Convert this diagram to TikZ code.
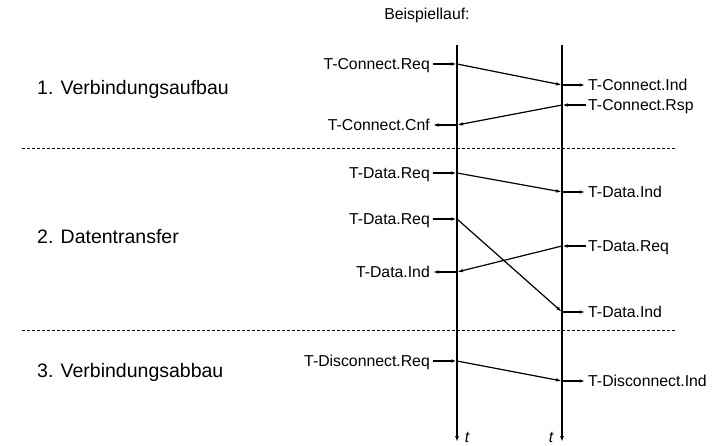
\documentclass[tikz,border=0pt]{standalone}
\usepackage{fontspec}
\setmainfont{Liberation Sans}
\usetikzlibrary{arrows.meta}
\begin{document}
\begin{tikzpicture}[x=1pt,y=-1pt,
  evt/.style={inner sep=0pt,font=\fontsize{15.8}{18}\selectfont},
  evl/.style={evt,anchor=base east,yshift=-5.5pt},
  evr/.style={evt,anchor=base west,yshift=-5.5pt},
  phase/.style={inner sep=0pt,anchor=west,font=\fontsize{19.5}{23}\selectfont},
  tl/.style={line width=1.6pt,-{Latex[length=6pt,width=4pt]}},
  msg/.style={line width=1.2pt,-{Latex[length=6pt,width=3.5pt]}},
  sep/.style={line width=0.6pt,dash pattern=on 3pt off 2pt}]
\useasboundingbox (0,0) rectangle (717,446);

% title
\node[evt] (title) at (427,15) {Beispiellauf:};

% time lines of the two stations
\coordinate (Atop) at (457,45);
\coordinate (Abot) at (457,442);
\coordinate (Btop) at (562,45);
\coordinate (Bbot) at (562,442);
\draw[tl] (Atop) -- (Abot);
\draw[tl] (Btop) -- (Bbot);
\node[evt,font=\fontsize{15.8}{18}\selectfont\itshape] (tA) at (467,437) {t};
\node[evt,font=\fontsize{15.8}{18}\selectfont\itshape] (tB) at (551,437) {t};

% phase separators and titles
\coordinate (s1a) at (22,148);  \coordinate (s1b) at (677,148);
\coordinate (s2a) at (22,330);  \coordinate (s2b) at (677,330);
\draw[sep] (s1a) -- (s1b);
\draw[sep] (s2a) -- (s2b);
\node[phase] (p1) at (37,89) {1. Verbindungsaufbau};
\node[phase] (p2) at (37,237) {2. Datentransfer};
\node[phase] (p3) at (37,372) {3. Verbindungsabbau};

% event points on the time lines
\coordinate (a1) at (457,64);   \coordinate (b1) at (562,85);
\coordinate (b2) at (562,105);  \coordinate (a2) at (457,125);
\coordinate (a3) at (457,173);  \coordinate (b3) at (562,192);
\coordinate (a4) at (457,219);  \coordinate (b4) at (562,312);
\coordinate (b5) at (562,246);  \coordinate (a5) at (457,272);
\coordinate (a6) at (457,361);  \coordinate (b6) at (562,381);

% service primitives
\node[evl] (cReq) at (430,64) {T-Connect.Req};
\node[evr] (cInd) at (588,85) {T-Connect.Ind};
\node[evr] (cRsp) at (588,105) {T-Connect.Rsp};
\node[evl] (cCnf) at (430,125) {T-Connect.Cnf};
\node[evl] (dReq1) at (430,173) {T-Data.Req};
\node[evr] (dInd1) at (588,192) {T-Data.Ind};
\node[evl] (dReq2) at (430,219) {T-Data.Req};
\node[evr] (dInd2) at (588,312) {T-Data.Ind};
\node[evr] (dReq3) at (588,246) {T-Data.Req};
\node[evl] (dInd3) at (430,272) {T-Data.Ind};
\node[evl] (xReq) at (430,361) {T-Disconnect.Req};
\node[evr] (xInd) at (588,381) {T-Disconnect.Ind};

% local interface arrows
\draw[msg,shorten <=2.5pt] (cReq.east |- a1) -- (a1);
\draw[msg,shorten >=2.5pt] (b1) -- (cInd.west |- b1);
\draw[msg,shorten <=2.5pt] (cRsp.west |- b2) -- (b2);
\draw[msg,shorten >=2.5pt] (a2) -- (cCnf.east |- a2);
\draw[msg,shorten <=2.5pt] (dReq1.east |- a3) -- (a3);
\draw[msg,shorten >=2.5pt] (b3) -- (dInd1.west |- b3);
\draw[msg,shorten <=2.5pt] (dReq2.east |- a4) -- (a4);
\draw[msg,shorten >=2.5pt] (b4) -- (dInd2.west |- b4);
\draw[msg,shorten <=2.5pt] (dReq3.west |- b5) -- (b5);
\draw[msg,shorten >=2.5pt] (a5) -- (dInd3.east |- a5);
\draw[msg,shorten <=2.5pt] (xReq.east |- a6) -- (a6);
\draw[msg,shorten >=2.5pt] (b6) -- (xInd.west |- b6);

% transfer between the stations
\draw[msg] (a1) -- (b1);
\draw[msg] (b2) -- (a2);
\draw[msg] (a3) -- (b3);
\draw[msg] (a4) -- (b4);
\draw[msg] (b5) -- (a5);
\draw[msg] (a6) -- (b6);
\end{tikzpicture}
\end{document}
